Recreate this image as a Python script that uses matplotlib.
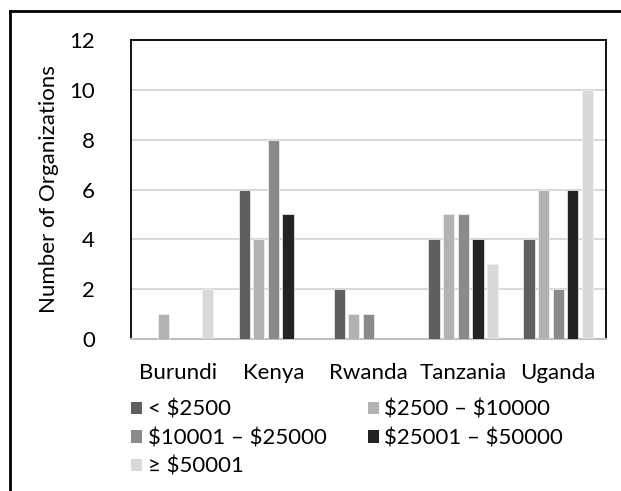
import numpy as np
import matplotlib
matplotlib.use("Agg")
import matplotlib.pyplot as plt
from matplotlib.patches import Patch
from matplotlib.lines import Line2D

# ---------------------------------------------------------------------------
# Dati
# ---------------------------------------------------------------------------
countries = ["Burundi", "Kenya", "Rwanda", "Tanzania", "Uganda"]
ranges = ["< $2500", "$2500 – $10000", "$10001 – $25000",
          "$25001 – $50000", "≥ $50001"]
lt_2500 = [0, 6, 2, 4, 4]
r_2500_10000 = [1, 4, 1, 5, 6]
r_10001_25000 = [0, 8, 1, 5, 2]
r_25001_50000 = [0, 5, 0, 4, 6]
ge_50001 = [2, 0, 0, 3, 10]
yticks = [0, 2, 4, 6, 8, 10, 12]

series = [lt_2500, r_2500_10000, r_10001_25000, r_25001_50000, ge_50001]
colors = ["#5f5f5f", "#b2b2b2", "#8a8a8a", "#232323", "#d9d9d9"]

plt.rcParams["font.family"] = ["Lato", "DejaVu Sans"]
plt.rcParams["text.parse_math"] = False   # i "$" sono testo normale
FS = 16

fig = plt.figure(figsize=(6.21, 4.91), dpi=100)
ax = fig.add_axes([131 / 621, 1 - 339 / 491, (605.7 - 131) / 621, (339 - 40) / 491])

x = np.arange(len(countries))
step = 0.154
width = 0.118
for i, (vals, col) in enumerate(zip(series, colors)):
    off = (i - 2) * step
    ax.bar(x + off, vals, width=width, color=col, edgecolor="#f2f2f2",
           linewidth=0.5, label=ranges[i], zorder=3)

ax.set_xlim(-0.5, len(countries) - 0.5)
ax.set_ylim(0, 12)
ax.set_yticks(yticks)
ax.set_xticks(x)
ax.set_xticklabels(countries, fontsize=FS)
ax.tick_params(axis="y", labelsize=FS, length=0, pad=26)
ax.tick_params(axis="x", length=0, pad=17)
ax.yaxis.grid(True, color="#d9d9d9", linewidth=1.5, zorder=0)
ax.set_axisbelow(True)

for s in ["left", "top", "right"]:
    ax.spines[s].set_color("black")
    ax.spines[s].set_linewidth(1.3)
ax.spines["bottom"].set_color("#bfbfbf")
ax.spines["bottom"].set_linewidth(1.5)

ax.set_ylabel("Number of Organizations", fontsize=FS, labelpad=7)

# legenda a due colonne, ordine per righe come nell'originale
order = [0, 2, 4, 1, 3]
handles = [Patch(facecolor=colors[k], edgecolor="none") for k in order]
labels = [ranges[k] for k in order]
fig.legend(handles, labels, loc="upper left",
           bbox_to_anchor=(131 / 621, 1 - 400 / 491), ncol=2, frameon=False,
           fontsize=FS, handlelength=0.5, handleheight=0.5,
           handletextpad=0.25, labelspacing=0.38, columnspacing=1.85,
           borderpad=0, borderaxespad=0)

# cornice esterna (solo lato sinistro e superiore visibili)
fig.add_artist(Line2D([10 / 621, 1], [1 - 11 / 491, 1 - 11 / 491],
                      color="black", linewidth=2, transform=fig.transFigure))
fig.add_artist(Line2D([10 / 621, 10 / 621], [0, 1 - 11 / 491],
                      color="black", linewidth=2, transform=fig.transFigure))

fig.savefig("out.png", dpi=100, facecolor="white")
